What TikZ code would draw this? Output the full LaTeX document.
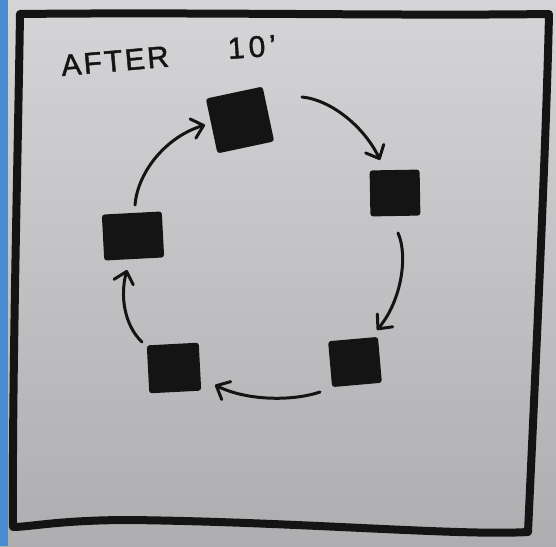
\documentclass[tikz,border=0pt]{standalone}
\usepackage{fontspec}
\setmainfont{Liberation Sans}
\usetikzlibrary{arrows.meta,calc}
\definecolor{boardtop}{HTML}{D5D5D7}
\definecolor{boardbot}{HTML}{AEAEB0}
\definecolor{sidebl}{HTML}{4A8CD2}
\definecolor{ink}{HTML}{141414}
\tikzset{
  block/.style={fill=ink, draw=ink, line width=2pt, rounded corners=2pt, inner sep=0pt},
  flow/.style={draw=ink, line width=3pt, line cap=round,
    -{Straight Barb[length=11pt,width=20pt,line width=3pt,round]}},
  frame/.style={draw=ink, line width=8pt, line join=round, line cap=round},
  hand/.style={text=ink, inner sep=0pt, font=\fontsize{30}{30}\selectfont\addfontfeatures{LetterSpace=8,FakeBold=1.5}},
  handwide/.style={text=ink, inner sep=0pt, font=\fontsize{30}{30}\selectfont\addfontfeatures{LetterSpace=14,FakeBold=1.5}}
}
\begin{document}
\begin{tikzpicture}[x=1pt,y=-1pt]
\useasboundingbox (0,0) rectangle (556,546);
\shade[top color=boardtop, bottom color=boardbot] (0,0) rectangle (556,546);
\fill[sidebl] (0,0) rectangle (8,546);
% frame
\draw[frame] (20,14) .. controls (200,12) and (400,16) .. (549,14)
  .. controls (546,150) and (535,380) .. (528,532)
  .. controls (460,536) and (300,522) .. (130,520)
  .. controls (60,520) and (30,527) .. (13,527)
  .. controls (12,380) and (18,150) .. (20,14) -- cycle;
% title
\node[hand, rotate=5] (t1) at (115,61) {AFTER};
\node[handwide, rotate=4] (t2) at (252,47) {10'};
% blocks
\node[block, minimum width=56pt, minimum height=54pt, rotate=12] (b1) at (240,120) {};
\node[block, minimum width=48pt, minimum height=44pt, rotate=1] (b2) at (395,193) {};
\node[block, minimum width=48pt, minimum height=44pt, rotate=5] (b3) at (355,362) {};
\node[block, minimum width=50pt, minimum height=46pt, rotate=3] (b4) at (174,368) {};
\node[block, minimum width=58pt, minimum height=44pt, rotate=3] (b5) at (133,236) {};
% arrow end points, set off from the blocks
\coordinate (a1s) at ($(b1)+(62,-23)$);
\coordinate (a1e) at ($(b2)+(-15,-33)$);
\coordinate (a2s) at ($(b2)+(3,40)$);
\coordinate (a2e) at ($(b3)+(22,-32)$);
\coordinate (a3s) at ($(b3)+(-35,30)$);
\coordinate (a3e) at ($(b4)+(41,17)$);
\coordinate (a4s) at ($(b4)+(-32,-26)$);
\coordinate (a4e) at ($(b5)+(-6,34)$);
\coordinate (a5s) at ($(b5)+(2,-31)$);
\coordinate (a5e) at ($(b1)+(-35,5)$);
\draw[flow] (a1s) .. controls (332,100) and (365,128) .. (a1e);
\draw[flow] (a2s) .. controls (408,255) and (402,300) .. (a2e);
\draw[flow] (a3s) .. controls (290,402) and (245,400) .. (a3e);
\draw[flow] (a4s) .. controls (124,325) and (120,295) .. (a4e);
\draw[flow] (a5s) .. controls (138,170) and (168,136) .. (a5e);
\end{tikzpicture}
\end{document}
